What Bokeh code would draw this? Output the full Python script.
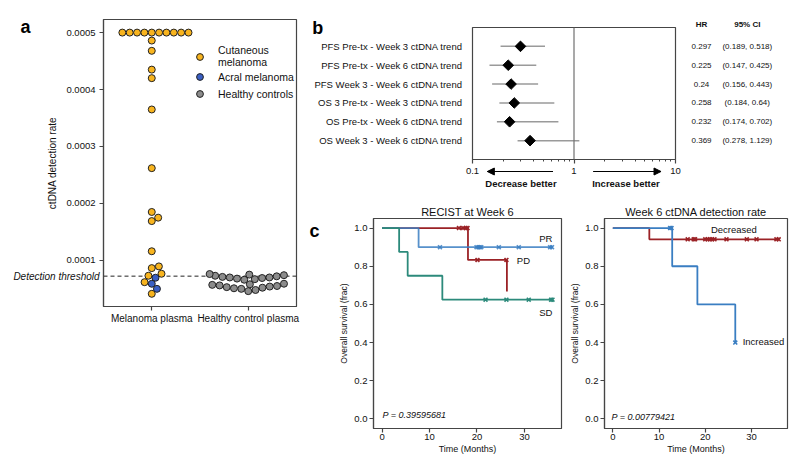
import numpy as np
from bokeh.plotting import figure
from bokeh.layouts import row, column
from bokeh.models import (Range1d, FixedTicker, Span, Label, Legend, LegendItem,
                          Arrow, NormalHead, PrintfTickFormatter)
from bokeh.core.properties import value
from bokeh.embed import file_html
from bokeh.resources import INLINE

FONT = "Liberation Sans"
AX = "#454545"
TXT = "#111111"

# ---------------- data: panel a ----------------
cutaneous = [0.0005, 0.0005, 0.0005, 0.0005, 0.0005, 0.0005, 0.0005, 0.0005, 0.0005, 0.0005,
             0.000486, 0.000468, 0.000435, 0.000420, 0.000365, 0.000262,
             0.000185, 0.000175, 0.000169, 0.000116, 0.0000894, 0.0000864,
             0.0000765, 0.0000730, 0.0000617, 0.0000413]
acral = [0.0000695, 0.0000589, 0.0000500]
healthy = [0.0000460, 0.0000480, 0.0000500, 0.0000510, 0.0000520, 0.0000530, 0.0000540,
           0.0000550, 0.0000560, 0.0000570, 0.0000580, 0.0000590,
           0.0000660, 0.0000670, 0.0000680, 0.0000690, 0.0000700, 0.0000700, 0.0000710,
           0.0000720, 0.0000730, 0.0000740, 0.0000750, 0.0000760]
threshold = 0.0000723
groups = ["Melanoma plasma", "Healthy control plasma"]
a_ticks = [0.0001, 0.0002, 0.0003, 0.0004, 0.0005]

# ---------------- data: panel b ----------------
fp_labels = ["PFS Pre-tx - Week 3 ctDNA trend", "PFS Pre-tx - Week 6 ctDNA trend",
             "PFS Week 3 - Week 6 ctDNA trend", "OS 3 Pre-tx - Week 3 ctDNA trend",
             "OS Pre-tx - Week 6 ctDNA trend", "OS Week 3 - Week 6 ctDNA trend"]
fp_hr = [0.297, 0.225, 0.24, 0.258, 0.232, 0.369]
fp_lo = [0.189, 0.147, 0.156, 0.184, 0.174, 0.278]
fp_hi = [0.518, 0.425, 0.443, 0.64, 0.702, 1.129]
fp_ticks = [0.1, 1, 10]
fp_tick_labels = ["0.1", "1", "10"]
table_cols = ["HR", "95% CI"]

# ---------------- data: panel c ----------------
pr_t = [0, 7.7, 36.0];            pr_s = [1.0, 0.9, 0.9]
pr_cens = [12.2, 19.9, 20.3, 20.6, 20.9, 24.6, 28.8, 35.4, 35.8]
pd_t = [0, 18.1, 26.3];           pd_s = [1.0, 0.833, 0.667]
pd_cens = [16.2, 17.1, 17.6, 18.0, 20.1, 26.2]
sd_t = [0, 3.6, 5.4, 12.7, 36.0]; sd_s = [1.0, 0.875, 0.75, 0.625, 0.625]
sd_cens = [21.8, 26.2, 30.9, 35.6, 35.9]
dec_t = [0, 7.9, 36.0];           dec_s = [1.0, 0.941, 0.941]
dec_cens = [16.2, 17.5, 17.8, 20.0, 20.5, 21.0, 21.5, 22.0, 24.6, 29.0, 31.1, 35.4, 35.9]
inc_t = [0, 12.85, 18.3, 26.5];   inc_s = [1.0, 0.8, 0.6, 0.4]
inc_cens = [12.4, 12.7, 26.5]
p_recist = "P = 0.39595681"
p_ctdna = "P = 0.00779421"

C_ORANGE = "#F8B41E"
C_BLUE = "#3A5FC4"
C_GREY = "#8C8C8C"
C_PR = "#3A7EC2"
C_PD = "#9B2226"
C_SD = "#2C8A7B"


def style(p, tick_font="9.5px"):
    for ax in p.axis:
        ax.axis_line_color = AX
        ax.axis_line_width = 1.2
        ax.major_tick_line_color = AX
        ax.major_tick_line_width = 1.2
        ax.major_tick_out = 4
        ax.major_tick_in = 0
        ax.minor_tick_line_color = None
        ax.major_label_text_font = FONT
        ax.major_label_text_font_size = tick_font
        ax.major_label_text_color = TXT
        ax.axis_label_text_font = FONT
        ax.axis_label_text_font_style = "normal"
        ax.axis_label_text_color = TXT
    p.xgrid.visible = False
    p.ygrid.visible = False
    p.outline_line_color = AX
    p.outline_line_width = 1.2


def outside_label(p, text, x, y, place="left", size="18px", style_="bold", align="left",
                  baseline="alphabetic"):
    p.add_layout(Label(x=x, y=y, text=text, text_font=FONT, text_font_size=size,
                       text_font_style=style_, text_align=align, text_baseline=baseline,
                       text_color=TXT if style_ != "bold" or size != "18px" else "#000000"),
                 place)


def swarm(values, d_px, ypx, xpx, half_width):
    vals = np.asarray(values, float)
    order = np.argsort(vals, kind="stable")
    ys = vals[order] * ypx
    placed = []
    for y in ys:
        neigh = [(xj, yj) for (xj, yj) in placed if y - yj < d_px]
        cands = [0.0]
        left_first = False
        for xj, yj in neigh:
            dx = np.sqrt(max(d_px ** 2 - (y - yj) ** 2, 0)) * 1.05
            cands += [xj - dx, xj + dx] if left_first else [xj + dx, xj - dx]
            left_first = not left_first
        cands = sorted(cands, key=abs)
        chosen = cands[0]
        for c in cands:
            if all((c - xj) ** 2 + (y - yj) ** 2 >= d_px ** 2 - 1e-9 for xj, yj in neigh):
                chosen = c
                break
        placed.append((chosen, y))
    offs = np.empty(len(vals))
    offs[order] = [q[0] for q in placed]
    return np.clip(offs / xpx, -half_width, half_width)


# ======================= panel a =======================
A_W, A_H, A_L, A_R, A_T, A_B = 300, 465, 103, 4, 19, 159
a_yr = (0.000019, 0.000523)
pa = figure(width=A_W, height=A_H, x_range=Range1d(-0.5, 1.5), y_range=Range1d(*a_yr),
            output_backend="svg", toolbar_location=None,
            min_border_left=A_L, min_border_right=A_R, min_border_top=A_T, min_border_bottom=A_B)
ypx = (A_H - A_T - A_B) / (a_yr[1] - a_yr[0])
xpx = (A_W - A_L - A_R) / 2.0
mel = cutaneous + acral
mel_off = swarm(mel, 7.0, ypx, xpx, 0.4)
hc_off = swarm(healthy, 7.0, ypx, xpx, 0.4)
n_c = len(cutaneous)

pa.add_layout(Span(location=threshold, dimension="width", line_color="#222222",
                   line_dash="4 3", line_width=1, level="underlay"))
r_cut = pa.scatter(x=0 + mel_off[:n_c], y=cutaneous, size=7, fill_color=C_ORANGE,
                   line_color="#222222", line_width=1)
r_acr = pa.scatter(x=0 + mel_off[n_c:], y=acral, size=7, fill_color=C_BLUE,
                   line_color="#222222", line_width=1)
r_hc = pa.scatter(x=1 + hc_off, y=healthy, size=7, fill_color=C_GREY,
                  line_color="#222222", line_width=1)
style(pa, "9.5px")
pa.xaxis.ticker = FixedTicker(ticks=[0, 1])
pa.xaxis.major_label_overrides = {0: groups[0], 1: groups[1]}
pa.xaxis.major_label_text_font_size = "10px"
pa.xaxis.major_label_standoff = 2
pa.yaxis.ticker = FixedTicker(ticks=a_ticks)
pa.yaxis.formatter = PrintfTickFormatter(format="%.4f")
pa.yaxis.axis_label = "ctDNA detection rate"
pa.yaxis.axis_label_text_font_size = "10px"
pa.yaxis.major_label_standoff = 4
pa.yaxis.axis_label_standoff = 5
outside_label(pa, "Detection threshold", -0.541, threshold, place="below", size="10px",
              style_="italic", align="right", baseline="middle")
legend = Legend(items=[LegendItem(label="Cutaneous\nmelanoma", renderers=[r_cut]),
                       LegendItem(label="Acral melanoma", renderers=[r_acr]),
                       LegendItem(label="Healthy controls", renderers=[r_hc])],
                location=(88, 204), border_line_color=None, background_fill_alpha=0,
                label_text_font=FONT, label_text_font_size="10.5px", label_text_color=TXT,
                glyph_width=17, glyph_height=17, label_height=12, label_standoff=10,
                spacing=-2, padding=0, margin=0)
pa.add_layout(legend)
outside_label(pa, "a", -1.36, 0.000509)

# ======================= panel b =======================
B_W, B_H, B_L, B_R, B_T, B_B = 384, 164, 171, 9, 27, 5
S_H = 31
n_rows = len(fp_labels)
rows_y = [n_rows - i for i in range(n_rows)]
fp_range = Range1d(0.1, 10)
pb = figure(width=B_W, height=B_H, x_axis_type="log", x_range=fp_range,
            y_range=Range1d(0, n_rows + 1), output_backend="svg", toolbar_location=None,
            min_border_left=B_L, min_border_right=B_R, min_border_top=B_T, min_border_bottom=B_B)
pb.add_layout(Span(location=1, dimension="height", line_color="#707070", line_width=1.2))
pb.segment(x0=fp_lo, y0=rows_y, x1=fp_hi, y1=rows_y, line_color="#9A9A9A", line_width=1.5)
pb.scatter(x=fp_hr, y=rows_y, marker="square", angle=np.pi / 4, size=7.5,
           fill_color="black", line_color="black")
style(pb, "9.5px")
pb.xaxis.ticker = FixedTicker(ticks=fp_ticks,
                              minor_ticks=[0.2, 0.3, 0.4, 0.5, 0.6, 0.7, 0.8, 0.9,
                                           2, 3, 4, 5, 6, 7, 8, 9])
pb.xaxis.major_label_text_font_size = "1px"
pb.xaxis.major_label_text_alpha = 0
pb.xaxis.major_label_standoff = 0
pb.xaxis.minor_tick_line_color = AX
pb.xaxis.minor_tick_out = 2
pb.xaxis.minor_tick_in = 0
pb.yaxis.ticker = FixedTicker(ticks=rows_y)
pb.yaxis.major_label_overrides = dict(zip(rows_y, fp_labels))
pb.yaxis.axis_line_color = None
pb.yaxis.major_tick_line_color = None
pb.yaxis.major_label_standoff = 6
outside_label(pb, "b", 0.00264, 7.0)

# strip under the forest plot (frame aligned with the forest plot, same log x range):
# tick labels, direction arrows and captions
ps = figure(width=B_W, height=S_H, x_axis_type="log", x_range=fp_range,
            y_range=Range1d(0, S_H - 2), output_backend="svg", toolbar_location=None,
            x_axis_location=None, y_axis_location=None, outline_line_color=None,
            min_border_left=B_L, min_border_right=B_R, min_border_top=1, min_border_bottom=1)
ps.xgrid.visible = False
ps.ygrid.visible = False
for t, lab in zip(fp_ticks, fp_tick_labels):
    ps.add_layout(Label(x=t, y=S_H - 7, text=lab, text_align="center", text_baseline="middle",
                        text_font=FONT, text_font_size="9.5px", text_color=TXT), "left")
arr_start = [0.62, 1.55]
arr_end = [0.14, 7.2]
arr_y = S_H - 8
ps.segment(x0=arr_start, y0=[arr_y] * 2, x1=arr_end, y1=[arr_y] * 2, line_color="black",
           line_width=1)
for xs, xe in zip(arr_start, arr_end):
    ps.add_layout(Arrow(end=NormalHead(size=7, fill_color="black", line_color="black"),
                        x_start=xs, y_start=arr_y, x_end=xe, y_end=arr_y,
                        line_width=1, line_color="black"))
ps.text(x=[0.30, 3.25], y=[S_H - 20] * 2, text=["Decrease better", "Increase better"],
        text_align="center", text_baseline="middle", text_font=value(FONT),
        text_font_size="9.5px", text_font_style="bold", text_color=TXT)

# table
T_W, T_H, T_L, T_R, T_T, T_B = 116, B_H + S_H, 1, 12, 15, 36
row_px = (B_H - B_T - B_B) / (n_rows + 1)
t_top = (T_H - T_T - T_B) / row_px
col_x = list(range(len(table_cols)))
pt = figure(width=T_W, height=T_H, x_range=Range1d(-0.35, 1.9),
            y_range=Range1d(0, t_top), output_backend="svg", toolbar_location=None,
            x_axis_location=None, y_axis_location=None, outline_line_color=None,
            min_border_left=T_L, min_border_right=T_R, min_border_top=T_T, min_border_bottom=T_B)
pt.xgrid.visible = False
pt.ygrid.visible = False
pt.text(x=[col_x[0]] * n_rows, y=rows_y, text=[str(v) for v in fp_hr], text_align="center",
        text_baseline="middle", text_font=value(FONT), text_font_size="8px", text_color=TXT)
pt.text(x=[col_x[1]] * n_rows, y=rows_y,
        text=["(%s, %s)" % (lo, hi) for lo, hi in zip(fp_lo, fp_hi)], text_align="center",
        text_baseline="middle", text_font=value(FONT), text_font_size="8px", text_color=TXT)
pt.text(x=col_x, y=[t_top - 0.48] * 2, text=table_cols, text_align="center",
        text_baseline="middle", text_font=value(FONT), text_font_size="8px",
        text_font_style="bold", text_color=TXT)


# ======================= panel c =======================
def km(p, t, s, cens, color, alpha=1.0):
    p.step(x=t, y=s, mode="after", line_color=color, line_width=1.8, line_alpha=alpha)
    idx = np.searchsorted(np.asarray(t), np.asarray(cens), side="right") - 1
    p.scatter(x=cens, y=np.asarray(s)[idx], marker="x", size=5.5, line_color=color,
              line_width=1.6, line_alpha=alpha)


def km_fig(width, left, right, title):
    p = figure(width=width, height=270, x_range=Range1d(-1.8, 37.8), y_range=Range1d(-0.05, 1.05),
               output_backend="svg", toolbar_location=None, title=title,
               min_border_left=left, min_border_right=right, min_border_top=23, min_border_bottom=37)
    style(p, "9.5px")
    p.title.align = "center"
    p.title.text_font = FONT
    p.title.text_font_size = "11px"
    p.title.text_font_style = "normal"
    p.title.text_color = TXT
    p.title.standoff = 2
    p.xaxis.ticker = FixedTicker(ticks=[0, 10, 20, 30])
    p.yaxis.ticker = FixedTicker(ticks=[0.0, 0.2, 0.4, 0.6, 0.8, 1.0])
    p.yaxis.formatter = PrintfTickFormatter(format="%.1f")
    p.xaxis.axis_label = "Time (Months)"
    p.yaxis.axis_label = "Overall survival (frac)"
    p.xaxis.axis_label_text_font_size = "9px"
    p.yaxis.axis_label_text_font_size = "8.5px"
    p.xaxis.major_label_standoff = 1
    p.xaxis.axis_label_standoff = 1
    p.yaxis.major_label_standoff = 2
    p.yaxis.axis_label_standoff = 2
    return p


def curve_label(p, text, x, y, align="center"):
    p.add_layout(Label(x=x, y=y, text=text, text_align=align, text_baseline="middle",
                       text_font=FONT, text_font_size="9.5px", text_color=TXT))


def p_label(p, text, x, y):
    p.add_layout(Label(x=x, y=y, x_units="screen", y_units="screen", text=text,
                       text_baseline="middle", text_font=FONT, text_font_size="9px",
                       text_font_style="italic", text_color=TXT))


pc1 = km_fig(267, 73, 6, "RECIST at Week 6")
km(pc1, pd_t, pd_s, pd_cens, C_PD)
km(pc1, pr_t, pr_s, pr_cens, C_PR, 0.85)
km(pc1, sd_t, sd_s, sd_cens, C_SD)
curve_label(pc1, "PR", 34.5, 0.945)
curve_label(pc1, "PD", 28.4, 0.832, "left")
curve_label(pc1, "SD", 34.5, 0.56)
p_label(pc1, p_recist, 9, 14)
outside_label(pc1, "c", -15.27, 0.982)

pc2 = km_fig(233, 33, 13, "Week 6 ctDNA detection rate")
km(pc2, dec_t, dec_s, dec_cens, C_PD)
km(pc2, inc_t, inc_s, inc_cens, C_PR)
curve_label(pc2, "Decreased", 26.2, 0.99)
curve_label(pc2, "Increased", 28.1, 0.405, "left")
p_label(pc2, p_ctdna, 7, 12)

layout = row(pa, column(row(column(pb, ps), pt), row(pc1, pc2)))
open("out.html", "w").write(file_html(layout, INLINE))
